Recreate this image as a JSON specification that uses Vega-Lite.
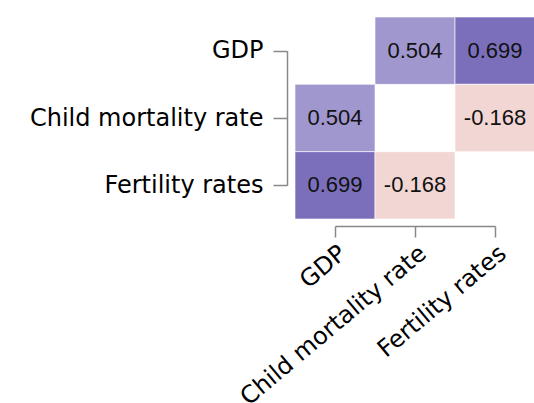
{
  "$schema": "https://vega.github.io/schema/vega-lite/v6.json",
  "width": 240,
  "height": 202,
  "autosize": {"type": "none"},
  "padding": {"left": 295, "top": 17, "right": 0, "bottom": 190},
  "background": "#ffffff",
  "config": {
    "view": {"stroke": null},
    "locale": {"number": {"decimal": ".", "thousands": ",", "grouping": [3], "currency": ["$", ""], "minus": "-"}}
  },
  "data": {
    "values": [
      {"row": "GDP", "col": "Child mortality rate", "r": 0.504},
      {"row": "GDP", "col": "Fertility rates", "r": 0.699},
      {"row": "Child mortality rate", "col": "GDP", "r": 0.504},
      {"row": "Child mortality rate", "col": "Fertility rates", "r": -0.168},
      {"row": "Fertility rates", "col": "GDP", "r": 0.699},
      {"row": "Fertility rates", "col": "Child mortality rate", "r": -0.168}
    ]
  },
  "layer": [
    {
      "mark": {"type": "rect", "stroke": "#ffffff", "strokeWidth": 1, "strokeOpacity": 0.6},
      "encoding": {
        "x": {"field": "col", "type": "nominal", "scale": {"domain": ["GDP", "Child mortality rate", "Fertility rates"], "paddingInner": 0, "paddingOuter": 0}, "axis": null},
        "y": {"field": "row", "type": "nominal", "scale": {"domain": ["GDP", "Child mortality rate", "Fertility rates"], "paddingInner": 0, "paddingOuter": 0}, "axis": null},
        "color": {"field": "r", "type": "quantitative", "scale": {"domain": [-0.168, 0.504, 0.699], "range": ["#f2d6d4", "#a197cf", "#7b6fbb"]}, "legend": null}
      }
    },
    {
      "mark": {"type": "text", "font": "Liberation Sans", "fontSize": 22, "color": "#111111"},
      "encoding": {
        "x": {"field": "col", "type": "nominal", "scale": {"type": "point", "domain": ["GDP", "Child mortality rate", "Fertility rates"], "range": [40, 200], "padding": 0},
          "axis": {"orient": "bottom", "title": null, "offset": 7, "tickSize": 11, "labelPadding": 4, "labelAngle": -40, "labelLimit": 0, "labelFont": "DejaVu Sans", "labelFontSize": 24, "labelColor": "#000000", "domainColor": "#888888", "tickColor": "#888888", "domainWidth": 1.5, "tickWidth": 1.5}},
        "y": {"field": "row", "type": "nominal", "scale": {"type": "point", "domain": ["GDP", "Child mortality rate", "Fertility rates"], "range": [33.67, 168.33], "padding": 0},
          "axis": {"orient": "left", "title": null, "offset": 8, "tickSize": 14, "labelPadding": 10, "labelLimit": 0, "labelFont": "DejaVu Sans", "labelFontSize": 24, "labelColor": "#000000", "domainColor": "#888888", "tickColor": "#888888", "domainWidth": 1.5, "tickWidth": 1.5}},
        "text": {"field": "r", "type": "quantitative", "format": ".3f"}
      }
    }
  ],
  "resolve": {"scale": {"x": "independent", "y": "independent"}}
}
